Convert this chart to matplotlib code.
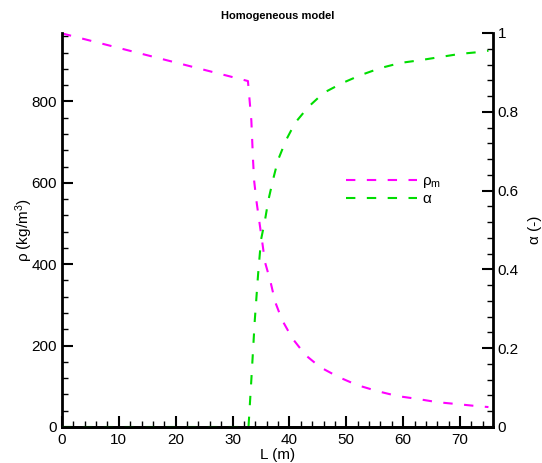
import matplotlib
matplotlib.use("Agg")
import matplotlib.pyplot as plt
from matplotlib.ticker import MultipleLocator

plt.rcParams['font.family'] = ['Liberation Sans', 'DejaVu Sans']
plt.rcParams['mathtext.fontset'] = 'custom'
plt.rcParams['mathtext.rm'] = 'Liberation Sans'
plt.rcParams['mathtext.it'] = 'Liberation Sans:italic'

# Mixture density along the pipe (kg/m^3)
x_rho = [0, 32.7, 33.3, 33.45, 33.6, 33.8, 34.2, 34.7, 35.2, 35.7, 36.6, 37.5,
         38.7, 40.5, 42.8, 45.4, 48.6, 51.9, 55.5, 59.0, 62.5, 66.0, 69.7, 73.2, 75.0]
rho_m = [967, 850, 753, 704, 655, 604, 555, 505, 456, 405, 361, 307,
         263, 218, 177, 147, 123, 103, 88, 76, 69, 61, 56, 51, 49]

# Void fraction along the pipe (-)
x_alpha = [0, 32.8, 33.3, 33.9, 34.5, 35.0, 35.7, 36.3, 37.1, 38.0, 39.4, 41.0,
           43.3, 46.0, 49.3, 52.5, 56.0, 59.5, 63.0, 66.5, 70.0, 73.6, 75.0]
alpha = [0, 0, 0.12, 0.27, 0.39, 0.475, 0.525, 0.576, 0.627, 0.678, 0.728, 0.772,
         0.812, 0.848, 0.873, 0.893, 0.911, 0.924, 0.931, 0.939, 0.947, 0.952, 0.955]

x_ticks = [0, 10, 20, 30, 40, 50, 60, 70]
rho_ticks = [0, 200, 400, 600, 800]
alpha_ticks = [0, 0.2, 0.4, 0.6, 0.8, 1]

fig = plt.figure(figsize=(5.42, 4.63), dpi=100)
ax = fig.add_axes([62/542, 36/463, (493-62)/542, (427-33)/463])
ax2 = ax.twinx()

dash = (0, (4.5, 5.5))
l1, = ax.plot(x_rho, rho_m, color='#ff00ff', lw=1.5, linestyle=dash, label=r'ρ$_\mathrm{m}$')
l2, = ax2.plot(x_alpha, alpha, color='#00dd00', lw=1.5, linestyle=dash, label='α')

ax.set_xlim(0, 75.8)
ax.set_ylim(0, 968)
ax2.set_ylim(0, 1)

for a in (ax, ax2):
    a.spines['top'].set_visible(False)
    for s in ('left', 'right', 'bottom'):
        a.spines[s].set_linewidth(2)
    a.tick_params(which='major', direction='in', length=8, width=1.5, labelsize=11)
    a.tick_params(which='minor', direction='in', length=4.5, width=1.0)
ax.spines['right'].set_visible(False)
ax2.spines['left'].set_visible(False)

ax.set_xticks(x_ticks)
ax.xaxis.set_minor_locator(MultipleLocator(2))
ax.set_yticks(rho_ticks)
ax.yaxis.set_minor_locator(MultipleLocator(40))
ax2.set_yticks(alpha_ticks)
ax2.set_yticklabels(['0', '0.2', '0.4', '0.6', '0.8', '1'])
ax2.yaxis.set_minor_locator(MultipleLocator(0.04))
ax.tick_params(axis='x', pad=4)

ax.set_xlabel('L (m)', fontsize=11, labelpad=1)
ax.set_ylabel(r'ρ (kg/m$^3$)', fontsize=11)
ax.yaxis.set_label_coords(-0.062, 0.5)
ax2.set_ylabel('α (-)', fontsize=11)
ax2.yaxis.label.set_rotation(90)
ax2.yaxis.set_label_coords(1.082, 0.5)

ax.set_title('Homogeneous model', fontsize=8, fontweight='bold', pad=10)

ax.legend([l1, l2], [l1.get_label(), l2.get_label()], frameon=False,
          loc='upper left', bbox_to_anchor=(0.626, 0.676), handlelength=4.7,
          fontsize=11, labelspacing=0.1, handletextpad=0.3)

fig.savefig('out.png', dpi=100)
